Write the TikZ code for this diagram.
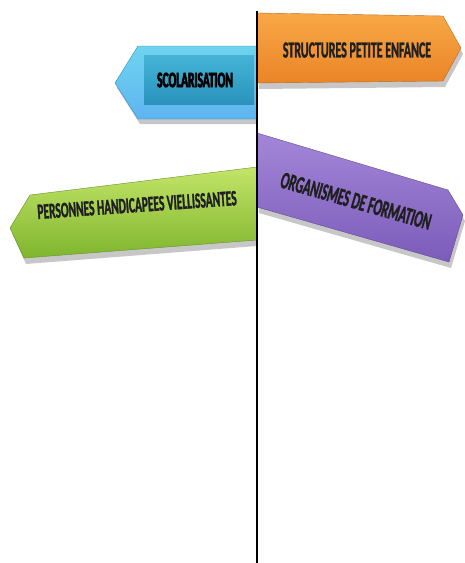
\documentclass[tikz,border=0pt]{standalone}
\usepackage{fontspec}
\setmainfont{Carlito}
\newfontfamily\signfont[UprightFont={* Bold}, FakeStretch=0.52, FakeBold=1.2]{Carlito}
\newfontfamily\heavysignfont[UprightFont={* Bold}, FakeStretch=0.52, FakeBold=3]{Carlito}
\usepackage{xcolor}

\definecolor{orangeTop}{HTML}{F8A846}
\definecolor{orangeBot}{HTML}{EA8427}
\definecolor{blueEdge}{HTML}{6FD4EE}
\definecolor{blueTop}{HTML}{45B4D6}
\definecolor{blueBot}{HTML}{2A93BC}
\definecolor{greenTop}{HTML}{C3E468}
\definecolor{greenBot}{HTML}{7FB52E}
\definecolor{purpleTop}{HTML}{A486D8}
\definecolor{purpleBot}{HTML}{7B5CBA}

\tikzset{
  signtext/.style={font=\signfont\fontsize{23}{23}\selectfont, inner sep=0pt, text=black!88},
  shadowfill/.style={fill=black, opacity=0.22}
}

\begin{document}
\begin{tikzpicture}[x=1pt,y=-1pt]
        \useasboundingbox (0,0) rectangle (464,563);

        % Define shadows under the signs
        \fill[shadowfill] (259,19) -- (445,22) -- (463,54) -- (445,87) -- (259,89) -- cycle;
        \fill[shadowfill] (257,51) -- (140,51) -- (117,88) -- (140,124) -- (257,124) -- cycle;
        \fill[shadowfill] (257,172) -- (32,200) -- (12,233) -- (26,264) -- (257,246) -- cycle;
        \fill[shadowfill] (259,139) -- (450,196) -- (465,221) -- (451,268) -- (259,213) -- cycle;

        % Define signs as shaded plates
        \path[top color=orangeTop, bottom color=orangeBot, draw=orangeBot!80!black, line width=0.4pt]
            (257,13) -- (443,16) -- (461,48) -- (443,81) -- (257,83) -- cycle;
        \path[top color=blueEdge, bottom color=blueEdge!85!blue, draw=blueBot, line width=0.4pt]
            (257,46) -- (138,46) -- (115,83) -- (138,119) -- (257,119) -- cycle;
        \path[top color=blueTop, bottom color=blueBot]
            (144,55) rectangle (254,104);
        \path[top color=greenTop, bottom color=greenBot, draw=greenBot!80!black, line width=0.4pt]
            (257,167) -- (30,195) -- (10,228) -- (24,258) -- (257,240) -- cycle;
        \path[top color=purpleTop, bottom color=purpleBot, draw=purpleBot!80!black, line width=0.4pt]
            (257,133) -- (448,190) -- (463,215) -- (449,262) -- (257,207) -- cycle;

        % Define texts on the signs
        \node[signtext] (enfance) at (357,50) {STRUCTURES PETITE ENFANCE};
        \node[signtext, font=\heavysignfont\fontsize{22}{22}\selectfont, text=black] (scolaire) at (195,80) {SCOLARISATION};
        \node[signtext, rotate=4, font=\signfont\fontsize{22}{22}\selectfont] (handicap) at (137,205) {PERSONNES HANDICAPEES VIELLISSANTES};
        \node[signtext, rotate=-16, font=\signfont\fontsize{24}{24}\selectfont] (formation) at (356,201) {ORGANISMES DE FORMATION};

        % Define the post
        \draw[line width=1.8pt] (257,11) -- (257,563);
    \end{tikzpicture}
\end{document}
